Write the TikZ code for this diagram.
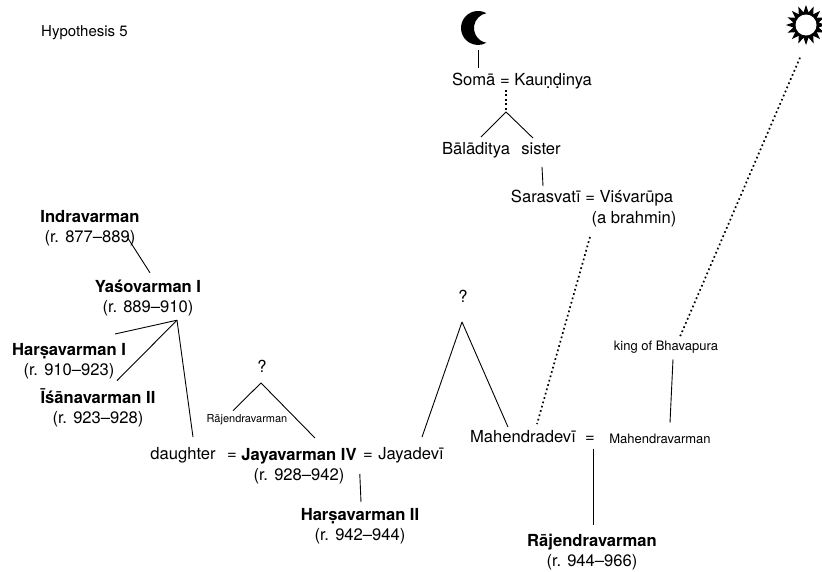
\documentclass[tikz,border=0pt]{standalone}
\usepackage{fontspec}
\setmainfont{TeX Gyre Heros}
\usetikzlibrary{calc,shapes.geometric}
\tikzset{
  lbl/.style={inner sep=0pt, font=\fontsize{16.6}{20}\selectfont, text height=12pt, text depth=3.5pt},
  lbltwo/.style={inner sep=0pt, font=\fontsize{16.6}{20}\selectfont, align=center},
  lblsm/.style={inner sep=0pt, font=\fontsize{13}{15}\selectfont, text height=9.5pt, text depth=2.8pt},
  lblxs/.style={inner sep=0pt, font=\fontsize{11}{13}\selectfont, text height=8pt, text depth=2.3pt},
  conn/.style={line width=0.9pt},
  dotconn/.style={line width=1.7pt, dash pattern=on 1.7pt off 2.8pt},
}
\begin{document}
\begin{tikzpicture}[x=1pt,y=-1pt]
\useasboundingbox (0,0) rectangle (822,571);
\fill[white] (0,0) rectangle (822,571);

% title
\node[inner sep=0pt, font=\fontsize{15}{18}\selectfont, anchor=west] (hyp) at (41,33) {Hypothesis 5};

% moon (crescent opening to the right)
\node[circle, minimum size=34pt, inner sep=0pt] (moon) at (478,28) {};
\fill[black] (486.4,13.2) arc[start angle=60.4, end angle=299.6, radius=17pt]
                          arc[start angle=260, end angle=100, radius=15pt] -- cycle;

% sun
\node[star, star points=16, star point ratio=1.55, fill=black, minimum size=40pt, inner sep=0pt] (sun) at (806,25) {};
\fill[white] (sun.center) circle[radius=10.5pt];

% texts
\node[lbl] (soma) at (522,81) {Somā = Kauṇḍinya};
\node[lbl] (bala) at (476,150) {Bālāditya};
\node[lbl] (sister) at (541,150) {sister};
\node[lbl] (sar) at (592,198) {Sarasvatī = Viśvarūpa};
\node[lbl] (brah) at (634,219) {(a brahmin)};

\node[lbltwo] (indra) at (90,228) {\textbf{Indravarman}\\(r. 877–889)};
\node[lbltwo] (yaso) at (148,298) {\textbf{Yaśovarman I}\\(r. 889–910)};
\node[lbltwo] (harsa1) at (69,361) {\textbf{Harṣavarman I}\\(r. 910–923)};
\node[lbltwo] (isana) at (98,408) {\textbf{Īśānavarman II}\\(r. 923–928)};

\node[lbl] (q1) at (262,368) {?};
\node[lblxs] (rajs) at (247,420) {Rājendravarman};

\node[lbl] (daughter) at (183,455) {daughter};
\node[lbl] (eq1) at (232,455) {=};
\node[lbltwo] (jiv) at (299,466) {\textbf{Jayavarman IV}\\(r. 928–942)};
\node[lbl] (eq2) at (368,455) {=};
\node[lbl] (jaya) at (411,455) {Jayadevī};
\node[lbltwo] (harsa2) at (360,526) {\textbf{Harṣavarman II}\\(r. 942–944)};

\node[lbl] (q2) at (463,298) {?};
\node[lblsm] (king) at (666,347) {king of Bhavapura};
\node[lbl] (mdevi) at (523,438) {Mahendradevī};
\node[lbl] (eq3) at (590,438) {=};
\node[lblsm] (mvar) at (660,440) {Mahendravarman};
\node[lbltwo] (raj) at (592,552) {\textbf{Rājendravarman}\\(r. 944–966)};

% junctions
\coordinate (j1) at ($(soma.south)+(-16,23)$);
\coordinate (j2) at ($(q2.south)+(-1,16)$);
\coordinate (j3) at ($(q1.south)+(-1,7)$);
\coordinate (j4) at ($(yaso.south)+(29,4)$);

% connectors
\draw[conn] ($(moon.south)+(0,5)$) -- ($(moon.south |- soma.north)+(0,-5)$);
\draw[dotconn] ($(soma.south)+(-16,1)$) -- (j1);
\draw[conn] (j1) -- ($(bala.north)+(5,-5)$);
\draw[conn] (j1) -- ($(sister.north)+(-8,-4)$);
\draw[conn] ($(sister.south)+(1,9)$) -- ($(sar.north)+(-49,-4)$);
\draw[dotconn] ($(brah.south)+(-44,10)$) -- ($(mdevi.north)+(14,-6)$);
\draw[dotconn] ($(sun.south)+(-6,12)$) -- ($(king.north)+(14,-4)$);
\draw[conn] ($(king.south)+(7,6)$) -- ($(mvar.north)+(10,-11)$);
\draw[conn] ($(eq3.south)+(3,3)$) -- ($(raj.north)+(1,-9)$);

\draw[conn] (j2) -- ($(jaya.north)+(11,-10)$);
\draw[conn] (j2) -- ($(mdevi.north)+(-15,-3)$);

\draw[conn] (j3) -- ($(rajs.north)+(-14,-4)$);
\draw[conn] (j3) -- ($(jiv.north)+(16,-10)$);

\draw[conn] ($(indra.south east)+(-12,-8)$) -- ($(yaso.north)+(2,-7)$);
\draw[conn] (j4) -- ($(harsa1.north)+(46,-9)$);
\draw[conn] (j4) -- ($(isana.north)+(19,-8)$);
\draw[conn] (j4) -- ($(daughter.north)+(10,-10)$);

\draw[conn] ($(jiv.south east)+(3,-10)$) -- ($(harsa2.north)+(1,-6)$);
\end{tikzpicture}
\end{document}
